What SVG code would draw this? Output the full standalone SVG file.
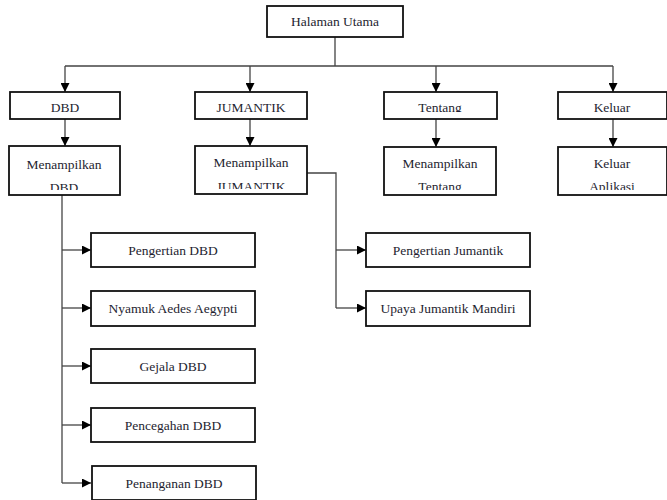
<svg xmlns="http://www.w3.org/2000/svg" width="667" height="500" viewBox="0 0 667 500">
  <style>
    .box { fill: #ffffff; stroke: #111111; stroke-width: 1.8; }
    .lbl { font-family: "Liberation Serif", "Times New Roman", serif; font-size: 13.5px; fill: #1e1e30; text-anchor: middle; }
    .wire { fill: none; stroke: #444444; stroke-width: 1.3; }
  </style>
  <defs>
    <marker id="arrow" viewBox="0 0 10 10" refX="10" refY="5" markerWidth="9" markerHeight="9" markerUnits="userSpaceOnUse" orient="auto">
      <path d="M0,0 L10,5 L0,10 Z" fill="#000000"/>
    </marker>
    <clipPath id="c-tentang"><rect x="384" y="92" width="113" height="20"/></clipPath>
    <clipPath id="c-mdbd"><rect x="9" y="146" width="111" height="44"/></clipPath>
    <clipPath id="c-mjum"><rect x="195" y="146" width="112" height="43"/></clipPath>
    <clipPath id="c-mten"><rect x="384" y="147" width="112" height="43"/></clipPath>
    <clipPath id="c-kapl"><rect x="558" y="147" width="109" height="43"/></clipPath>
  </defs>

  <!-- connectors -->
  <g id="connectors">
    <path class="wire" d="M335,37 V66 M65,66 H613"/>
    <path class="wire" d="M65,66 V92" marker-end="url(#arrow)"/>
    <path class="wire" d="M250,66 V92" marker-end="url(#arrow)"/>
    <path class="wire" d="M436,66 V92" marker-end="url(#arrow)"/>
    <path class="wire" d="M613,66 V92" marker-end="url(#arrow)"/>

    <path class="wire" d="M65,119 V146" marker-end="url(#arrow)"/>
    <path class="wire" d="M250,119 V146" marker-end="url(#arrow)"/>
    <path class="wire" d="M436,119 V147" marker-end="url(#arrow)"/>
    <path class="wire" d="M613,119 V147" marker-end="url(#arrow)"/>

    <!-- DBD sub-menu -->
    <path class="wire" d="M62,195 V483"/>
    <path class="wire" d="M62,250 H91" marker-end="url(#arrow)"/>
    <path class="wire" d="M62,308 H91" marker-end="url(#arrow)"/>
    <path class="wire" d="M62,366 H91" marker-end="url(#arrow)"/>
    <path class="wire" d="M62,425 H91" marker-end="url(#arrow)"/>
    <path class="wire" d="M62,483 H91" marker-end="url(#arrow)"/>

    <!-- JUMANTIK sub-menu -->
    <path class="wire" d="M307,173 H336 V308"/>
    <path class="wire" d="M336,250 H366" marker-end="url(#arrow)"/>
    <path class="wire" d="M336,308 H366" marker-end="url(#arrow)"/>
  </g>

  <g id="halaman-utama">
    <rect class="box" x="267" y="6" width="136" height="31"/>
    <text class="lbl" x="335" y="26">Halaman Utama</text>
  </g>

  <g id="dbd">
    <rect class="box" x="10" y="92" width="110" height="27"/>
    <text class="lbl" x="65" y="112">DBD</text>
  </g>
  <g id="jumantik">
    <rect class="box" x="195" y="92" width="112" height="27"/>
    <text class="lbl" x="251" y="112">JUMANTIK</text>
  </g>
  <g id="tentang">
    <rect class="box" x="384" y="92" width="113" height="27"/>
    <text class="lbl" x="440" y="112" clip-path="url(#c-tentang)">Tentang</text>
  </g>
  <g id="keluar">
    <rect class="box" x="558" y="92" width="109" height="27"/>
    <text class="lbl" x="612" y="112">Keluar</text>
  </g>

  <g id="menampilkan-dbd">
    <rect class="box" x="9" y="146" width="111" height="49"/>
    <g clip-path="url(#c-mdbd)">
      <text class="lbl" x="64" y="169">Menampilkan</text>
      <text class="lbl" x="64" y="192">DBD</text>
    </g>
  </g>
  <g id="menampilkan-jumantik">
    <rect class="box" x="195" y="146" width="112" height="48"/>
    <g clip-path="url(#c-mjum)">
      <text class="lbl" x="251" y="167">Menampilkan</text>
      <text class="lbl" x="251" y="191">JUMANTIK</text>
    </g>
  </g>
  <g id="menampilkan-tentang">
    <rect class="box" x="384" y="147" width="112" height="48"/>
    <g clip-path="url(#c-mten)">
      <text class="lbl" x="440" y="168">Menampilkan</text>
      <text class="lbl" x="440" y="191">Tentang</text>
    </g>
  </g>
  <g id="keluar-aplikasi">
    <rect class="box" x="558" y="147" width="109" height="48"/>
    <g clip-path="url(#c-kapl)">
      <text class="lbl" x="612" y="168">Keluar</text>
      <text class="lbl" x="612" y="191">Aplikasi</text>
    </g>
  </g>

  <g id="pengertian-dbd">
    <rect class="box" x="91" y="233" width="164" height="34"/>
    <text class="lbl" x="173" y="255">Pengertian DBD</text>
  </g>
  <g id="nyamuk-aedes-aegypti">
    <rect class="box" x="91" y="291" width="164" height="35"/>
    <text class="lbl" x="173" y="313">Nyamuk Aedes Aegypti</text>
  </g>
  <g id="gejala-dbd">
    <rect class="box" x="91" y="349" width="164" height="34"/>
    <text class="lbl" x="173" y="371">Gejala DBD</text>
  </g>
  <g id="pencegahan-dbd">
    <rect class="box" x="91" y="408" width="164" height="34"/>
    <text class="lbl" x="173" y="430">Pencegahan DBD</text>
  </g>
  <g id="penanganan-dbd">
    <rect class="box" x="92" y="466" width="164" height="34"/>
    <text class="lbl" x="174" y="488">Penanganan DBD</text>
  </g>

  <g id="pengertian-jumantik">
    <rect class="box" x="366" y="233" width="164" height="34"/>
    <text class="lbl" x="448" y="255">Pengertian Jumantik</text>
  </g>
  <g id="upaya-jumantik-mandiri">
    <rect class="box" x="366" y="291" width="164" height="35"/>
    <text class="lbl" x="448" y="313">Upaya Jumantik Mandiri</text>
  </g>
</svg>
